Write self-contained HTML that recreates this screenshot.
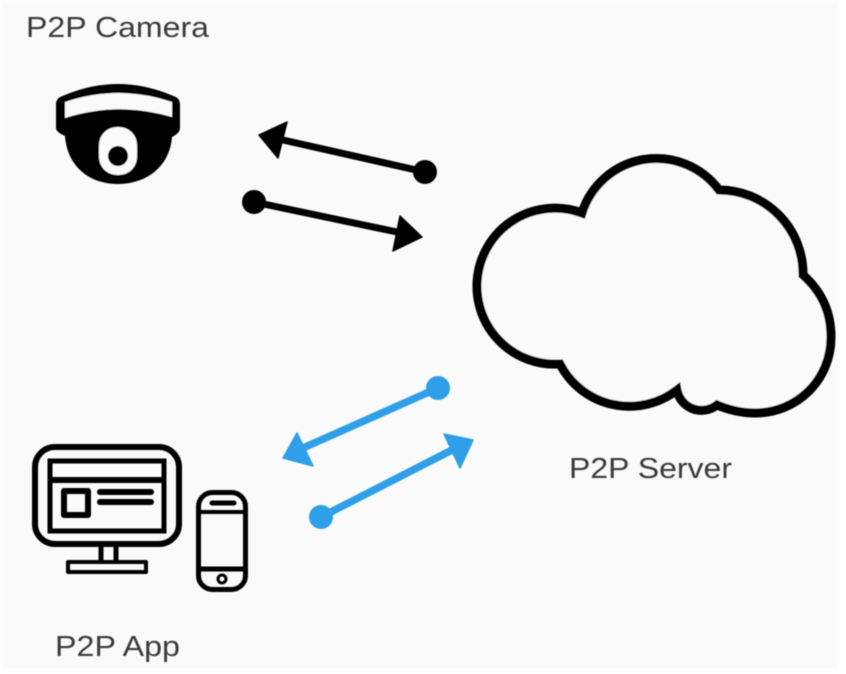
<!DOCTYPE html>
<html lang="en">
<head>
<meta charset="utf-8">
<title>P2P diagram</title>
<style>
html,body{margin:0;padding:0;background:#fff;width:846px;height:674px;overflow:hidden}
svg{display:block}
text{font-family:"Liberation Sans",sans-serif;font-size:29px;fill:#3a3a3a}
</style>
</head>
<body>
<svg width="846" height="674" viewBox="0 0 846 674" xmlns="http://www.w3.org/2000/svg">
<defs><filter id="b" x="-5%" y="-5%" width="110%" height="110%"><feGaussianBlur stdDeviation="0.4"/></filter></defs>
<rect x="2" y="3" width="836" height="665" fill="#fafafa"/>
<g filter="url(#b)">
  <text x="26" y="37" textLength="183" lengthAdjust="spacingAndGlyphs">P2P Camera</text>
  <text x="569" y="478" textLength="163" lengthAdjust="spacingAndGlyphs">P2P Server</text>
  <text x="55" y="656" textLength="125" lengthAdjust="spacingAndGlyphs">P2P App</text>

  <!-- camera -->
  <path d="M56 105C56 98 60 97 65 95Q118 73 171 95C176 97 180 98 180 105L180 128Q180 133 172 137C170 165 148 184 118 184C88 184 67 165 65 136Q56 132 56 128Z" fill="#000"/>
  <path d="M65 102Q118 84 172 102L172 117Q118 101 65 118Z" fill="#fafafa"/>
  <rect x="99" y="127" width="38" height="48" rx="18" fill="#fafafa"/>
  <circle cx="118" cy="156" r="10" fill="#000"/>

  <!-- black arrows -->
  <g stroke="#000" stroke-width="7" fill="#000">
    <line x1="283" y1="140" x2="425" y2="172"/>
    <line x1="254" y1="202" x2="397" y2="232"/>
  </g>
  <circle cx="425" cy="172" r="12" fill="#000"/>
  <circle cx="254" cy="202" r="12" fill="#000"/>
  <path d="M259 135L287 122L278 158Z" fill="#000" stroke="#000" stroke-width="1.5" stroke-linejoin="round"/>
  <path d="M422 237L400 216L393 251Z" fill="#000" stroke="#000" stroke-width="1.5" stroke-linejoin="round"/>

  <!-- cloud -->
  <path d="M582 213A78 78 0 0 1 719 190A84 84 0 0 1 803 275C822 292 831 312 831 337C831 380 797 413 755 413C742 413 729 410 717 405A25 25 0 0 1 677 390A78 78 0 0 1 560 364A78 78 0 1 1 582 213Z" fill="#fafafa" stroke="#000" stroke-width="9" stroke-linejoin="miter"/>

  <!-- blue arrows -->
  <g stroke="#2e9fe8" stroke-width="7.500">
    <line x1="438" y1="388" x2="303" y2="448"/>
    <line x1="321" y1="517" x2="452" y2="450"/>
  </g>
  <circle cx="438" cy="388" r="12" fill="#2e9fe8"/>
  <circle cx="321" cy="517" r="12" fill="#2e9fe8"/>
  <path d="M283 458L297 433L313 466Z" fill="#2e9fe8" stroke="#2e9fe8" stroke-width="1.5" stroke-linejoin="round"/>
  <path d="M473 440L444 434L460 468Z" fill="#2e9fe8" stroke="#2e9fe8" stroke-width="1.5" stroke-linejoin="round"/>

  <!-- monitor -->
  <g fill="none" stroke="#000">
    <rect x="35" y="447" width="144" height="97" rx="20" stroke-width="6"/>
    <rect x="50" y="461" width="114" height="70" stroke-width="5"/>
    <line x1="50" y1="480" x2="164" y2="480" stroke-width="6"/>
    <rect x="64" y="491" width="24" height="24" stroke-width="6" stroke-linejoin="round"/>
    <line x1="100" y1="492" x2="151" y2="492" stroke-width="6" stroke-linecap="round"/>
    <line x1="100" y1="502" x2="151" y2="502" stroke-width="6" stroke-linecap="round"/>
    <line x1="101" y1="547" x2="101" y2="561" stroke-width="5"/>
    <line x1="116" y1="547" x2="116" y2="561" stroke-width="5"/>
    <rect x="68" y="562" width="78" height="10" stroke-width="4" stroke-linejoin="round"/>
  </g>

  <!-- phone -->
  <g fill="none" stroke="#000">
    <rect x="198.500" y="492.500" width="47" height="97" rx="14" stroke-width="5"/>
    <line x1="199" y1="512" x2="245" y2="512" stroke-width="4"/>
    <line x1="199" y1="569" x2="245" y2="569" stroke-width="5"/>
    <line x1="212" y1="503" x2="234" y2="503" stroke-width="5" stroke-linecap="round"/>
    <circle cx="222" cy="579" r="4" stroke-width="3"/>
  </g>
</g>
</svg>
</body>
</html>
